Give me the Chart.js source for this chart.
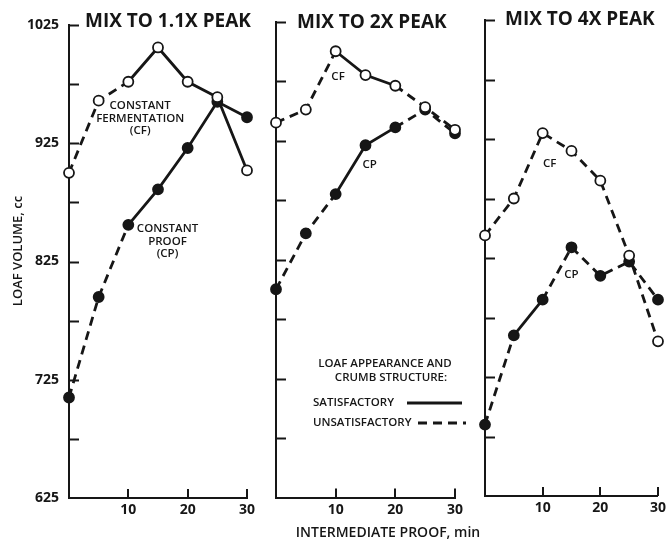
<!DOCTYPE html>
<html>
<head>
<meta charset="utf-8">
<script src="https://cdn.jsdelivr.net/npm/chart.js@4.4.0/dist/chart.umd.min.js"></script>
<style>
  body { margin: 0; background: #fff; }
  #wrap { position: relative; width: 670px; height: 540px; }
  #wrap canvas { position: absolute; left: 0; top: 0; }
</style>
</head>
<body>
<div id="wrap">
  <canvas id="p1" width="670" height="540"></canvas>
  <canvas id="p2" width="670" height="540"></canvas>
  <canvas id="p3" width="670" height="540"></canvas>
</div>
<script>
// intermediate proof, min
const proofMin = [0, 5, 10, 15, 20, 25, 30];
const xTicks = [10, 20, 30];

// loaf volume, cc  (CF = constant fermentation, CP = constant proof)
const cf11 = [900, 961, 977, 1006, 977, 964, 902];
const cp11 = [710, 795, 856, 886, 921, 960, 947];
const cf2x = [940, 951, 1000, 980, 971, 953, 934];
const cp2x = [800, 847, 880, 921, 936, 951, 931];
const cf4x = [844, 875, 930, 915, 890, 827, 755];
const cp4x = [685, 760, 790, 834, 810, 822, 790];

// loaf appearance per segment: 1 = satisfactory, 0 = unsatisfactory
const cf11Ok = [0, 0, 1, 1, 1, 1];
const cp11Ok = [0, 0, 1, 1, 1, 1];
const cf2xOk = [0, 0, 1, 1, 0, 0];
const cp2xOk = [0, 0, 1, 1, 0, 0];
const cf4xOk = [0, 0, 0, 0, 0, 0];
const cp4xOk = [0, 1, 0, 0, 0, 0];

const yMin = 625, yMax = 1025, yStep = 50;
const yLabelled = [625, 725, 825, 925, 1025];

const FONT = '"Open Sans", "DejaVu Sans", sans-serif';
const INK = '#161616';
const DASH = [9, 6];

function series(label, values, ok, filled) {
  return {
    label: label,
    data: values,
    borderColor: INK,
    borderWidth: 2.8,
    pointRadius: 5,
    pointBorderWidth: 1.8,
    pointBorderColor: INK,
    pointBackgroundColor: filled ? INK : '#fff',
    tension: 0,
    clip: false,
    segment: {
      borderDash: c => ok[c.p0DataIndex] ? [] : DASH
    }
  };
}

function line(ctx, x1, y1, x2, y2) {
  ctx.beginPath();
  ctx.moveTo(x1, y1);
  ctx.lineTo(x2, y2);
  ctx.stroke();
}

const decor = {
  id: 'decor',
  afterDraw(chart, args, o) {
    const { ctx, chartArea: a, scales: { x, y } } = chart;
    ctx.save();
    ctx.strokeStyle = INK;
    ctx.fillStyle = INK;
    ctx.lineWidth = 2;
    ctx.setLineDash([]);
    // inward tick marks
    y.ticks.forEach(t => {
      if (t.value === yMin) return;
      const py = Math.round(y.getPixelForValue(t.value)) + 0.5;
      line(ctx, a.left, py, a.left + 10, py);
    });
    xTicks.forEach(v => {
      const px = Math.round(x.getPixelForValue(v));
      line(ctx, px, a.bottom, px, a.bottom - 9);
    });
    // panel title
    ctx.font = '700 19px ' + FONT;
    ctx.textAlign = 'left';
    ctx.textBaseline = 'middle';
    ctx.fillText(o.title, a.left + o.titleDx, o.titleY);
    // curve notes, placed in data units
    ctx.font = '600 11.5px ' + FONT;
    ctx.textAlign = 'center';
    (o.notes || []).forEach(n => {
      const px = x.getPixelForValue(n.x);
      const py = y.getPixelForValue(n.y);
      n.lines.forEach((s, i) => ctx.fillText(s, px, py + (i - (n.lines.length - 1) / 2) * 12.5));
    });
    if (o.yTitle) {
      ctx.save();
      ctx.font = '600 13px ' + FONT;
      ctx.translate(18, 251);
      ctx.rotate(-Math.PI / 2);
      ctx.fillText(o.yTitle, 0, 0);
      ctx.restore();
    }
    if (o.legend) {
      const lx = a.left + 37;
      ctx.font = '600 11.5px ' + FONT;
      ctx.fillText('LOAF APPEARANCE AND', a.left + 109, 364);
      ctx.fillText('CRUMB STRUCTURE:', a.left + 115, 378);
      ctx.textAlign = 'left';
      ctx.fillText('SATISFACTORY', lx, 403);
      ctx.fillText('UNSATISFACTORY', lx, 423);
      ctx.lineWidth = 2.8;
      line(ctx, a.left + 131, 403, a.left + 186, 403);
      ctx.setLineDash(DASH);
      line(ctx, a.left + 142, 423, a.left + 190, 423);
      ctx.setLineDash([]);
      ctx.font = '600 14px ' + FONT;
      ctx.textAlign = 'center';
      ctx.fillText('INTERMEDIATE PROOF, min', a.left + 112, 533);
    }
    ctx.restore();
  }
};

function panel(id, cf, cfOk, cp, cpOk, axisLeft, plotRight, top, bottom, showY, opts) {
  return new Chart(document.getElementById(id), {
    type: 'line',
    data: {
      labels: proofMin,
      datasets: [
        series('Constant fermentation (CF)', cf.map((v, i) => ({ x: proofMin[i], y: v })), cfOk, false),
        series('Constant proof (CP)', cp.map((v, i) => ({ x: proofMin[i], y: v })), cpOk, true)
      ]
    },
    options: {
      responsive: false,
      animation: false,
      layout: { padding: { left: 0, right: 670 - plotRight, top: top, bottom: 0 } },
      plugins: { legend: { display: false }, tooltip: { enabled: false }, decor: opts },
      scales: {
        x: {
          type: 'linear',
          min: 0, max: 30,
          afterFit: s => { s.height = 540 - bottom; },
          grid: { display: false, drawTicks: false },
          border: { display: true, width: 2, color: INK },
          ticks: {
            stepSize: 10,
            padding: 4,
            color: INK,
            font: { family: FONT, size: 14, weight: '700' },
            callback: v => v === 0 ? '' : v
          }
        },
        y: {
          min: yMin, max: yMax,
          afterFit: s => { s.width = axisLeft; },
          grid: { display: false, drawTicks: false },
          border: { display: true, width: 2, color: INK },
          ticks: {
            display: showY,
            stepSize: yStep,
            padding: 10,
            color: INK,
            font: { family: FONT, size: 14, weight: '700' },
            callback: v => yLabelled.includes(v) ? v : ''
          }
        }
      }
    },
    plugins: [decor]
  });
}

panel('p1', cf11, cf11Ok, cp11, cp11Ok, 69, 247, 25, 498, true, {
  title: 'MIX TO 1.1X PEAK', titleDx: 16, titleY: 22,
  yTitle: 'LOAF VOLUME, cc',
  notes: [
    { x: 12, y: 946, lines: ['CONSTANT', 'FERMENTATION', '(CF)'] },
    { x: 16.6, y: 842, lines: ['CONSTANT', 'PROOF', '(CP)'] }
  ]
});
panel('p2', cf2x, cf2xOk, cp2x, cp2xOk, 276, 455, 21.5, 497.5, false, {
  title: 'MIX TO 2X PEAK', titleDx: 21, titleY: 23,
  legend: true,
  notes: [
    { x: 10.4, y: 979, lines: ['CF'] },
    { x: 15.7, y: 905, lines: ['CP'] }
  ]
});
panel('p3', cf4x, cf4xOk, cp4x, cp4xOk, 485, 665, 20, 496, false, {
  title: 'MIX TO 4X PEAK', titleDx: 20, titleY: 20,
  notes: [
    { x: 11.2, y: 904, lines: ['CF'] },
    { x: 15, y: 811, lines: ['CP'] }
  ]
});
</script>
</body>
</html>
